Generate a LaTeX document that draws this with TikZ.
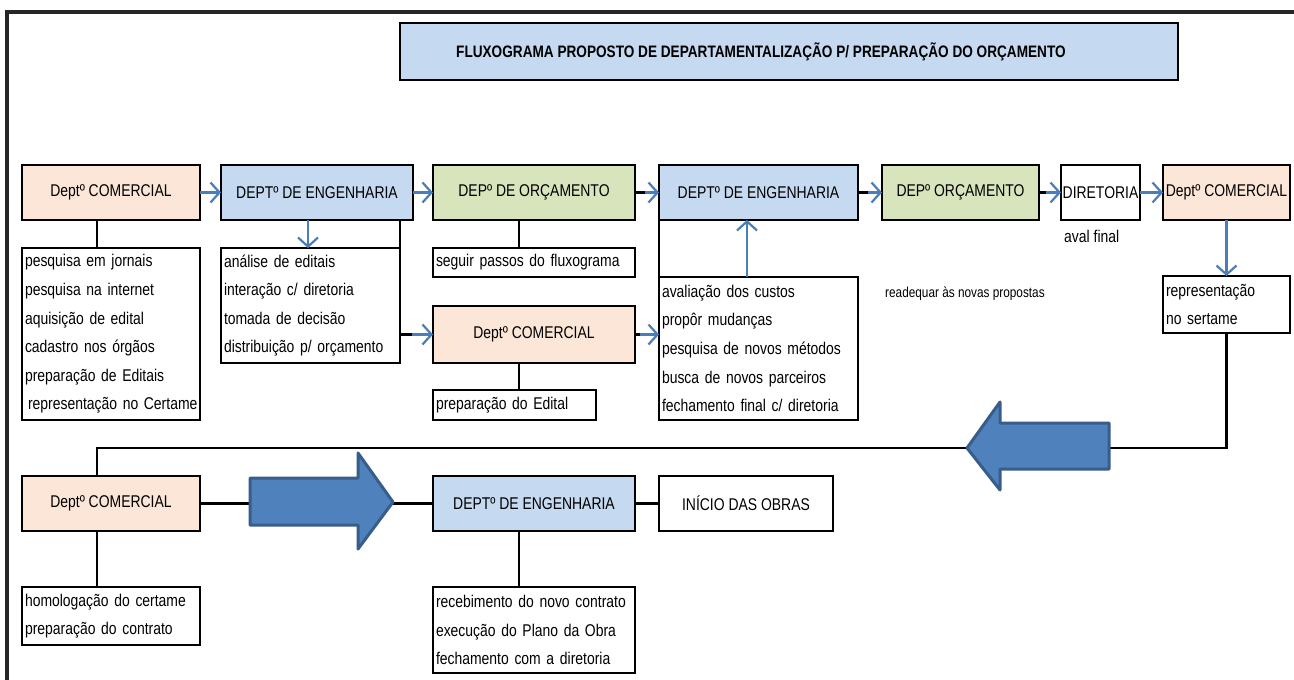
\documentclass[tikz,border=0pt]{standalone}
\usepackage{fontspec}
\setmainfont{Liberation Sans}[FakeStretch=0.82]
\usetikzlibrary{arrows.meta,calc}
\hyphenpenalty=10000
\hbadness=10000
\hfuzz=20pt

\definecolor{hdrorange}{RGB}{252,230,215}
\definecolor{hdrblue}{RGB}{197,217,241}
\definecolor{hdrgreen}{RGB}{216,228,188}
\definecolor{flowblue}{RGB}{74,126,187}
\definecolor{bigfill}{RGB}{79,129,189}
\definecolor{bigedge}{RGB}{56,93,138}

\tikzset{
  hdr/.style={draw, line width=2.5pt, inner sep=0pt, outer sep=0pt, anchor=north west,
    align=center, font=\fontsize{17}{20}\selectfont},
  lst/.style={draw, line width=2.5pt, inner xsep=3pt, inner ysep=0pt, outer sep=0pt,
    anchor=north west, align=left, font=\fontsize{17}{28.6}\selectfont},
  conn/.style={draw, line width=2.5pt},
  flow/.style={draw=flowblue, line width=2.2pt, -{Straight Barb[length=9pt,width=20pt]}},
  bigarrow/.style={fill=bigfill, draw=bigedge, line width=3pt, line join=round},
  plain/.style={inner sep=0pt, anchor=west}
}

\begin{document}
\begin{tikzpicture}[x=1pt, y=-1pt]
\useasboundingbox (0,0) rectangle (1294,680);
\fill[white] (0,0) rectangle (1294,680);

% outer frame
\draw[line width=3.5pt, black!85] (7,680) -- (7,12) -- (1294,12);

% title
\node[hdr, fill=hdrblue, minimum width=778pt, minimum height=57pt] (title) at (400,23) {};
\node[plain, font=\bfseries\fontsize{16.6}{20}\selectfont] (titletext) at (456,52)
  {FLUXOGRAMA PROPOSTO DE DEPARTAMENTALIZAÇÃO P/ PREPARAÇÃO DO ORÇAMENTO};

% first row of departments
\node[hdr, fill=hdrorange, minimum width=178pt, minimum height=55pt] (d1) at (22,165) {Deptº COMERCIAL};
\node[hdr, fill=hdrblue, minimum width=192pt, minimum height=55pt] (e1) at (221,165) {DEPTº DE ENGENHARIA};
\node[hdr, fill=hdrgreen, minimum width=202pt, minimum height=55pt] (o1) at (433,165) {DEPº DE ORÇAMENTO};
\node[hdr, fill=hdrblue, minimum width=199pt, minimum height=55pt] (e2) at (659,165) {DEPTº DE ENGENHARIA};
\node[hdr, fill=hdrgreen, minimum width=157pt, minimum height=55pt] (o2) at (882,165) {DEPº ORÇAMENTO};
\node[hdr, fill=white, minimum width=79pt, minimum height=55pt] (dir) at (1061,165) {DIRETORIA};
\node[hdr, fill=hdrorange, minimum width=127pt, minimum height=55pt] (d2) at (1163,165) {Deptº COMERCIAL};

% task lists of the first row
\node[lst, text width=172pt, minimum height=172pt] (L1) at (22,248)
  {pesquisa em jornais\\pesquisa na internet\\aquisição de edital\\cadastro nos órgãos\\preparação de Editais\\\mbox{\hspace{3pt}representação no Certame}};
\node[lst, text width=173pt, minimum height=115pt] (L2) at (221,248)
  {análise de editais\\interação c/ diretoria\\tomada de decisão\\distribuição p/ orçamento};
\node[lst, text width=196pt, minimum height=29pt] (L3) at (433,248) {seguir passos do fluxograma};
\node[hdr, fill=hdrorange, minimum width=202pt, minimum height=57pt] (dm) at (433,306) {Deptº COMERCIAL};
\node[lst, text width=157pt, minimum height=30pt] (L4) at (433,390) {preparação do Edital};
\node[lst, text width=193pt, minimum height=143pt] (L5) at (659,277)
  {avaliação dos custos\\propôr mudanças\\pesquisa de novos métodos\\busca de novos parceiros\\fechamento final c/ diretoria};
\node[lst, text width=121pt, minimum height=57pt] (L6) at (1163,276) {representação\\no sertame};

\node[plain, font=\fontsize{17}{20}\selectfont] (aval) at (1064,236) {aval final};
\node[plain, font=\fontsize{14.4}{18}\selectfont] (readeq) at (885,294) {readequar às novas propostas};

% last row
\node[hdr, fill=hdrorange, minimum width=178pt, minimum height=55pt] (d3) at (22,476) {Deptº COMERCIAL};
\node[hdr, fill=hdrblue, minimum width=202pt, minimum height=55pt] (e3) at (433,476) {DEPTº DE ENGENHARIA};
\node[hdr, fill=white, minimum width=174pt, minimum height=55pt] (ini) at (659,476) {INÍCIO DAS OBRAS};
\node[lst, text width=172pt, minimum height=58pt] (L7) at (22,587) {homologação do certame\\preparação do contrato};
\node[lst, text width=196pt, minimum height=86pt] (L8) at (433,587)
  {recebimento do novo contrato\\execução do Plano da Obra\\fechamento com a diretoria};

% tie points on box edges
\coordinate (d1b) at ($(d1.south west)+(75,0)$);
\coordinate (e1b) at ($(e1.south west)+(87,0)$);
\coordinate (o1b) at ($(o1.south west)+(86,0)$);
\coordinate (dmb) at ($(dm.south west)+(86,0)$);
\coordinate (l5t) at ($(L5.north west)+(88,0)$);
\coordinate (d3t) at ($(d3.north west)+(75,0)$);
\coordinate (d3b) at ($(d3.south west)+(75,0)$);
\coordinate (e3b) at ($(e3.south west)+(86,0)$);

% black connectors
\draw[conn] (d1b) -- (d1b |- L1.north);
\draw[conn] (L2.north east) -- (L2.north east |- e1.south);
\draw[conn] (o1b) -- (o1b |- L3.north);
\draw[conn] (dmb) -- (dmb |- L4.north);
\draw[conn] (L5.north west) -- (L5.north west |- e2.south);
\draw[conn] (L6.south) |- ($(d3t)+(0,-28)$) -- (d3t);
\draw[conn] (d3.east) -- (e3.west);
\draw[conn] (e3.east) -- (ini.west);
\draw[conn] (d3b) -- (d3b |- L7.north);
\draw[conn] (e3b) -- (e3b |- L8.north);

% short black stubs ahead of the blue arrows
\draw[conn] (o1.east) -- ++(10,0);
\draw[conn] (e2.east) -- ++(10,0);
\draw[conn] (o2.east) -- ++(7,0);
\draw[conn] (dm.west -| L2.east) -- ++(12,0);
\draw[conn] (dm.east) -- ++(5,0);

% blue flow arrows
\draw[flow] (d1.east) -- (e1.west);
\draw[flow] (e1.east) -- (o1.west);
\draw[flow, shorten <=10pt] (o1.east) -- (e2.west);
\draw[flow, shorten <=10pt] (e2.east) -- (o2.west);
\draw[flow, shorten <=7pt] (o2.east) -- (dir.west);
\draw[flow] (dir.east) -- (d2.west);
\draw[flow] (e1b) -- (e1b |- L2.north);
\draw[flow, shorten <=12pt] (dm.west -| L2.east) -- (dm.west);
\draw[flow, shorten <=5pt] (dm.east) -- (dm.east -| L5.west);
\draw[flow] (l5t) -- (l5t |- e2.south);
\draw[flow] (d2.south) -- (d2.south |- L6.north);

% large block arrows
\draw[bigarrow] (967,448) -- (1000,402) -- (1000,423) -- (1109,423) -- (1109,469)
  -- (1000,469) -- (1000,490) -- cycle;
\draw[bigarrow] (250,478) -- (358,478) -- (358,453) -- (393,502) -- (358,549)
  -- (358,525) -- (250,525) -- cycle;

\end{tikzpicture}
\end{document}
